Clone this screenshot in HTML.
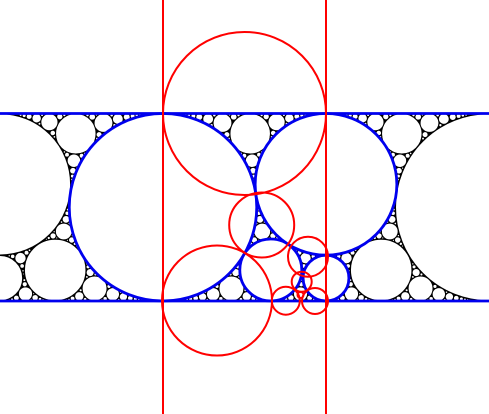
<!DOCTYPE html>
<html><head><meta charset="utf-8"><style>
html,body{margin:0;padding:0;background:#fff;}
svg{display:block;}
</style></head><body>
<svg id="chart" width="489" height="414" viewBox="0 0 489 414" xmlns="http://www.w3.org/2000/svg">
<rect x="-10" y="113.5" width="510" height="187.5" fill="#000"/>
<g id="packing"></g>
<g id="blue" fill="none" stroke="#0000ee" stroke-width="2.8"></g>
<g id="red" fill="none" stroke="#ff0000" stroke-width="2"></g>
</svg>
<script>
const TOP = 113.5, BOT = 301;
const blueCx = [163, 326, 270.8, 326];
const blueCy = [207.25, 184.35, 270, 278.1];
const blueR  = [93.75, 70.85, 31, 22.9];
const blackCx = [489, -163, 0, 652, 55.2, 381.2, 0, 652];
const blackCy = [207.25, 207.25, 184.35, 184.35, 270, 270, 278.1, 278.1];
const blackR  = [93.75, 93.75, 70.85, 70.85, 31, 31, 22.9, 22.9];
const redCx = [244.5, 217, 261.7, 308, 285.8, 315, 301.7, 300.5];
const redCy = [113.5, 300.5, 225, 256.7, 300.7, 301, 281.7, 295];
const redR  = [81.5, 55, 32.5, 20, 14, 13, 10, 3];
const redLineX = [163, 326];

const NS = 'http://www.w3.org/2000/svg';
const circles = [];
for (let i = 0; i < blueCx.length; i++) circles.push([blueCx[i], blueCy[i], blueR[i]]);
for (let i = 0; i < blackCx.length; i++) circles.push([blackCx[i], blackCy[i], blackR[i]]);

// greedy packing on a grid
const X0 = -30, X1 = 520, W = X1 - X0, H = Math.ceil(BOT - TOP);
const grid = new Float32Array(W * H);
function exact(x, y) {
  let d = Math.min(y - TOP, BOT - y);
  for (const c of circles) {
    const e = Math.hypot(x - c[0], y - c[1]) - c[2];
    if (e < d) d = e;
  }
  return d;
}
for (let j = 0; j < H; j++) for (let i = 0; i < W; i++) {
  grid[j * W + i] = exact(X0 + i + 0.5, TOP + j + 0.5);
}
function update(c) {
  const r = c[2], m = 2 * r + 2;
  const i0 = Math.max(0, Math.floor(c[0] - m - X0)), i1 = Math.min(W - 1, Math.ceil(c[0] + m - X0));
  const j0 = Math.max(0, Math.floor(c[1] - m - TOP)), j1 = Math.min(H - 1, Math.ceil(c[1] + m - TOP));
  for (let j = j0; j <= j1; j++) for (let i = i0; i <= i1; i++) {
    const e = Math.hypot(X0 + i + 0.5 - c[0], TOP + j + 0.5 - c[1]) - r;
    const k = j * W + i;
    if (e < grid[k]) grid[k] = e;
  }
}
const added = [];
for (let it = 0; it < 1500; it++) {
  let best = -1, bi = 0;
  for (let k = 0; k < grid.length; k++) if (grid[k] > best) { best = grid[k]; bi = k; }
  if (best < 0.8) break;
  let x = X0 + (bi % W) + 0.5, y = TOP + Math.floor(bi / W) + 0.5;
  let d = exact(x, y);
  for (let s = 0.5; s > 0.02; s /= 2) {
    let moved = true, n = 0;
    while (moved && n < 20) {
      moved = false; n++;
      for (const [dx, dy] of [[s,0],[-s,0],[0,s],[0,-s],[s,s],[s,-s],[-s,s],[-s,-s]]) {
        const nd = exact(x + dx, y + dy);
        if (nd > d) { d = nd; x += dx; y += dy; moved = true; }
      }
    }
  }
  if (d < 0.8) { grid[bi] = 0; continue; }
  const c = [x, y, d];
  circles.push(c); added.push(c);
  update(c);
}

const pk = document.getElementById('packing');
function mk(parent, c, name) {
  const el = document.createElementNS(NS, 'circle');
  el.setAttribute('cx', c[0].toFixed(2));
  el.setAttribute('cy', c[1].toFixed(2));
  el.setAttribute('r', c[2].toFixed(2));
  
  
  parent.appendChild(el);
  return el;
}
for (let i = 0; i < blackCx.length; i++) {
  const el = mk(pk, [blackCx[i], blackCy[i], blackR[i]], 'black-circle');
  el.setAttribute('fill', '#fff'); el.setAttribute('stroke', '#000'); el.setAttribute('stroke-width', '1.5');
}
for (const c of added) {
  const el = mk(pk, c, 'packed-circle');
  el.setAttribute('fill', '#fff'); el.setAttribute('stroke', '#000'); el.setAttribute('stroke-width', '1');
}
for (let i = 0; i < blueCx.length; i++) {
  const el = mk(pk, [blueCx[i], blueCy[i], blueR[i]], 'blue-circle-fill');
  el.setAttribute('fill', '#fff'); el.setAttribute('stroke', 'none');
}
const bg = document.getElementById('blue');
for (let i = 0; i < blueCx.length; i++) mk(bg, [blueCx[i], blueCy[i], blueR[i]], 'blue-circle');
for (const y of [TOP, BOT]) {
  const l = document.createElementNS(NS, 'line');
  l.setAttribute('x1', 0); l.setAttribute('x2', 489); l.setAttribute('y1', y); l.setAttribute('y2', y);
  
  
  bg.appendChild(l);
}
const rg = document.getElementById('red');
for (let i = 0; i < redCx.length; i++) mk(rg, [redCx[i], redCy[i], redR[i]], 'red-circle');
for (const x of redLineX) {
  const l = document.createElementNS(NS, 'line');
  l.setAttribute('x1', x); l.setAttribute('x2', x); l.setAttribute('y1', 0); l.setAttribute('y2', 414);
  
  
  rg.appendChild(l);
}
</script>
</body></html>
